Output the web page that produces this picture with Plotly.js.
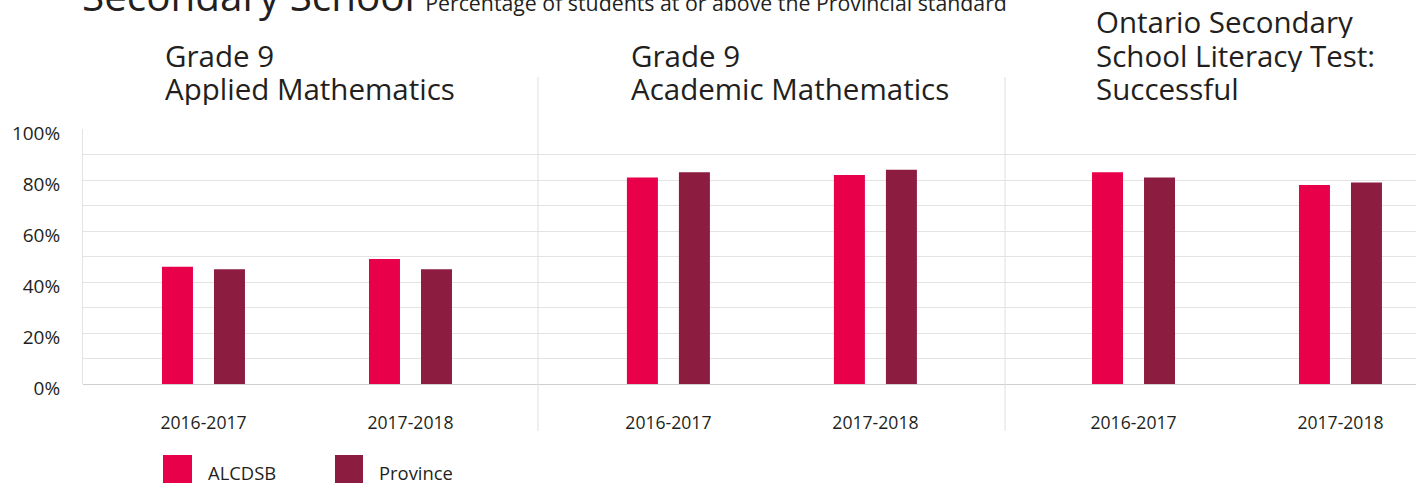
<!DOCTYPE html>
<html>
<head>
<meta charset="utf-8">
<script src="https://cdn.plot.ly/plotly-3.0.1.min.js"></script>
<style>html,body{margin:0;padding:0;background:#fff;}#chart{width:1427px;height:484px;}</style>
</head>
<body>
<div id="chart"></div>
<script>
// ---- data ----
const categories = ['2016-2017', '2017-2018'];
const seriesNames = ['ALCDSB', 'Province'];
const panelTitles = [
  ['Grade 9', 'Applied Mathematics'],
  ['Grade 9', 'Academic Mathematics'],
  ['Ontario Secondary', 'School Literacy Test:', 'Successful']
];
const alcdsbApplied = [46, 49];
const provinceApplied = [45, 45];
const alcdsbAcademic = [81, 82];
const provinceAcademic = [83, 84];
const alcdsbOSSLT = [83, 78];
const provinceOSSLT = [81, 79];
const yTickVals = [0, 20, 40, 60, 80, 100];
const yTickText = ['0%', '20%', '40%', '60%', '80%', '100%'];
const mainTitle = 'Secondary School';
const subTitle = 'Percentage of students at or above the Provincial standard';

// ---- style ----
const colors = ['#E8004A', '#8C1C40'];
const FONT = 'Open Sans, sans-serif';
const TXT = '#231f20';
const GRID = '#e3e3e3';

const W = 1427, H = 484;
const L = 83, R = 11, T = 129, B = 100;
const pw = W - L - R, ph = H - T - B;
const px = x => (x - L) / pw;          // pixel -> paper x
const py = y => (H - B - y) / ph;      // pixel -> paper y

const panelData = [[alcdsbApplied, provinceApplied], [alcdsbAcademic, provinceAcademic], [alcdsbOSSLT, provinceOSSLT]];
const domains = [[0, px(538)], [px(538), px(1005)], [px(1005), 1]];
const ranges = [[-0.582, 1.616], [-0.630, 1.626], [-0.621, 1.365]];

const traces = [];
panelData.forEach((pd, i) => {
  pd.forEach((vals, s) => {
    traces.push({
      type: 'bar', x: categories, y: vals, name: seriesNames[s],
      marker: {color: colors[s]}, showlegend: false, hoverinfo: 'x+y+name',
      xaxis: i === 0 ? 'x' : 'x' + (i + 1), yaxis: i === 0 ? 'y' : 'y' + (i + 1)
    });
  });
});

const layout = {
  width: W, height: H,
  margin: {l: L, r: R, t: T, b: B, pad: 0},
  paper_bgcolor: '#fff', plot_bgcolor: '#fff',
  barmode: 'group', bargap: 0.4976, bargroupgap: 0.404,
  font: {family: FONT, color: TXT, size: 17},
  annotations: [], shapes: []
};
for (let i = 0; i < 3; i++) {
  const sfx = i === 0 ? '' : String(i + 1);
  layout['xaxis' + sfx] = {
    domain: domains[i], range: ranges[i], type: 'category', anchor: 'y' + sfx,
    showgrid: false, zeroline: false, showline: false, ticks: '',
    ticklabelstandoff: 26, tickfont: {family: FONT, size: 17.6, color: TXT}, fixedrange: true
  };
  layout['yaxis' + sfx] = {
    domain: [0, 1], range: [0, 100], anchor: 'x' + sfx,
    tickmode: 'array', tickvals: yTickVals, ticktext: yTickText, showticklabels: i === 0,
    ticks: '', ticklabelstandoff: 18, ticklabelshift: 4,
    tickfont: {family: FONT, size: 19, color: TXT},
    showgrid: true, gridcolor: GRID, gridwidth: 1,
    minor: {dtick: 10, showgrid: true, gridcolor: GRID, gridwidth: 1},
    zeroline: true, zerolinecolor: '#cfcfcf', zerolinewidth: 1,
    showline: i === 0, linecolor: GRID, linewidth: 1, fixedrange: true
  };
  if (i > 0) layout['yaxis' + sfx].matches = 'y';
}

// separators
[538, 1005].forEach(x => layout.shapes.push({
  type: 'line', xref: 'paper', yref: 'paper', x0: px(x), x1: px(x), y0: py(431), y1: py(77),
  line: {color: '#e0e0e0', width: 1}
}));

// panel titles (one annotation per line)
const titleX = [164, 630, 1095];
const LINE = 33.5;
panelTitles.forEach((lines, i) => {
  lines.forEach((t, k) => {
    const fromBottom = lines.length - 1 - k;
    layout.annotations.push({
      text: t, xref: 'paper', yref: 'paper', x: px(titleX[i]), y: py(106.3 - LINE * fromBottom),
      xanchor: 'left', yanchor: 'bottom', align: 'left', valign: 'middle', height: 33,
      showarrow: false, font: {family: FONT, size: 29.5, color: TXT}, borderpad: 0
    });
  });
});

// main title
layout.annotations.push({
  text: mainTitle + ' <span style="font-size:21.3px">' + subTitle + '</span>',
  xref: 'paper', yref: 'paper', x: px(81), y: py(24), xanchor: 'left', yanchor: 'bottom',
  showarrow: false, font: {family: FONT, size: 40.4, color: TXT}, borderpad: 0
});

// custom legend
const legX = [[163, 192, 206], [335, 363, 377]];
seriesNames.forEach((n, s) => {
  layout.shapes.push({
    type: 'rect', xref: 'paper', yref: 'paper', x0: px(legX[s][0]), x1: px(legX[s][1]),
    y0: py(483), y1: py(455), fillcolor: colors[s], line: {width: 0}
  });
  layout.annotations.push({
    text: n, xref: 'paper', yref: 'paper', x: px(legX[s][2]), y: py(472),
    xanchor: 'left', yanchor: 'middle', showarrow: false,
    font: {family: FONT, size: 18.4, color: TXT}
  });
});

Plotly.newPlot('chart', traces, layout, {displayModeBar: false, staticPlot: true});
</script>
</body>
</html>
